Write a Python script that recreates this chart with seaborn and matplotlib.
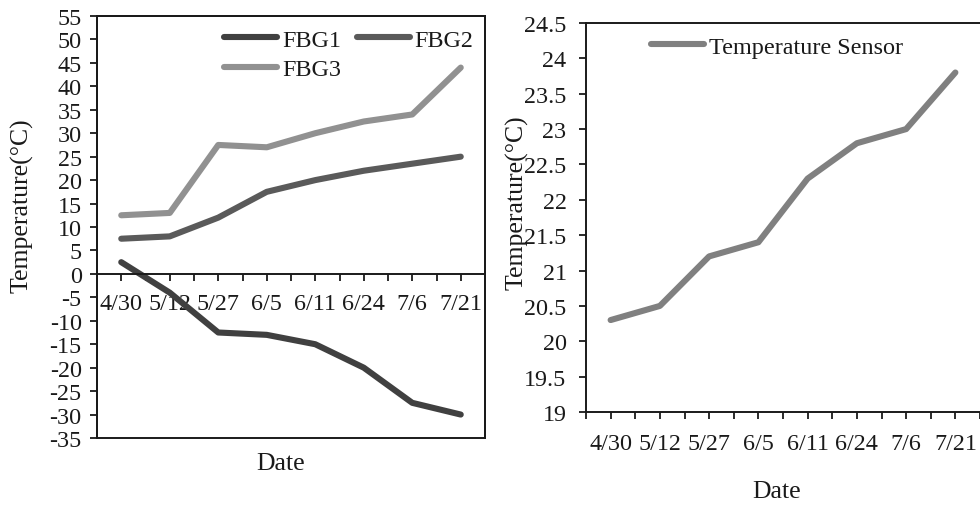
import matplotlib
matplotlib.use('Agg')
import matplotlib.pyplot as plt
import seaborn as sns
import pandas as pd
import numpy as np
from matplotlib.ticker import FixedLocator, FuncFormatter, MultipleLocator
from matplotlib.patches import Rectangle

dates = ['4/30', '5/12', '5/27', '6/5', '6/11', '6/24', '7/6', '7/21']
fbg1 = [2.5, -4, -12.5, -13, -15, -20, -27.5, -30]
fbg2 = [7.5, 8, 12, 17.5, 20, 22, 23.5, 25]
fbg3 = [12.5, 13, 27.5, 27, 30, 32.5, 34, 44]
sensor = [20.3, 20.5, 21.2, 21.4, 22.3, 22.8, 23.0, 23.8]

series_names = ['FBG1', 'FBG2', 'FBG3']
series_colors = ['#404040', '#5a5a5a', '#919191']
sensor_name = 'Temperature Sensor'
sensor_color = '#808080'

sns.set_theme(style='white')
plt.rcParams['font.family'] = ['Liberation Serif', 'DejaVu Serif']
plt.rcParams['text.color'] = '#1a1a1a'
plt.rcParams['axes.labelcolor'] = '#1a1a1a'
plt.rcParams['xtick.color'] = '#1a1a1a'
plt.rcParams['ytick.color'] = '#1a1a1a'

TICK_FS = 17.4
LABEL_FS = 18.5
LW = 4.4
SPINE_LW = 1.4

idx = np.arange(len(dates))
left_df = pd.DataFrame({
    'x': np.tile(idx, 3),
    'value': fbg1 + fbg2 + fbg3,
    'series': np.repeat(series_names, len(dates)),
})
right_df = pd.DataFrame({'x': idx, 'value': sensor, 'series': sensor_name})

fig = plt.figure(figsize=(9.8, 5.06), dpi=100)
axL = fig.add_axes([97 / 980, 1 - 439 / 506, 388 / 980, 422 / 506])
axR = fig.add_axes([586 / 980, 1 - 413 / 506, 394 / 980, 389 / 506])

sns.lineplot(data=left_df, x='x', y='value', hue='series', hue_order=series_names,
             palette=series_colors, linewidth=LW, ax=axL, legend=True,
             solid_capstyle='round', solid_joinstyle='round')
sns.lineplot(data=right_df, x='x', y='value', hue='series',
             palette=[sensor_color], linewidth=LW, ax=axR, legend=True,
             solid_capstyle='round', solid_joinstyle='round')

fmt = FuncFormatter(lambda v, p: f'{v:g}')

for ax in (axL, axR):
    ax.set_xlim(-0.5, len(dates) - 0.5)
    ax.xaxis.set_major_locator(FixedLocator(idx))
    ax.set_xticklabels(dates)
    ax.xaxis.set_minor_locator(FixedLocator(np.arange(-0.5, len(dates), 1.0)))
    ax.yaxis.set_major_formatter(fmt)
    ax.tick_params(axis='both', which='both', direction='out', length=5, width=1.3,
                   labelsize=TICK_FS)
    ax.tick_params(axis='x', which='both', bottom=True, top=False)
    ax.tick_params(axis='y', which='both', left=True, right=False)
    for s in ax.spines.values():
        s.set_linewidth(SPINE_LW)
        s.set_color('#1a1a1a')
    ax.grid(False)

# Left panel
axL.set_ylim(-35, 55)
axL.yaxis.set_major_locator(MultipleLocator(5))
axL.spines['bottom'].set_position(('data', 0))
axL.tick_params(axis='x', pad=9)
axL.tick_params(axis='y', pad=6)
axL.add_patch(Rectangle((0, 0), 1, 1, transform=axL.transAxes, fill=False,
                        lw=SPINE_LW, edgecolor='#1a1a1a', clip_on=False, zorder=3))
axL.set_xlabel('Date', fontsize=LABEL_FS, va='center')
axL.xaxis.set_label_coords(0.472, -0.059)
axL.set_ylabel('Temperature(°C)', fontsize=LABEL_FS, va='center')
axL.yaxis.set_label_coords(-0.193, 0.552)

h, l = axL.get_legend_handles_labels()
order = [0, 2, 1]
axL.legend([h[i] for i in order], [l[i] for i in order], ncol=2, frameon=False,
           fontsize=TICK_FS, loc='upper left',
           bbox_to_anchor=(224 / 980, 1 - 30 / 506), bbox_transform=fig.transFigure,
           borderpad=0, borderaxespad=0, handlelength=2.2, handletextpad=0.2,
           columnspacing=0.65, labelspacing=0.3)

# Right panel
axR.set_ylim(19, 24.5)
axR.yaxis.set_major_locator(MultipleLocator(0.5))
axR.spines['right'].set_visible(False)
axR.tick_params(axis='x', pad=10)
axR.tick_params(axis='y', pad=9)
axR.set_xlabel('Date', fontsize=LABEL_FS, va='center')
axR.xaxis.set_label_coords(0.485, -0.203)
axR.set_ylabel('Temperature(°C)', fontsize=LABEL_FS, va='center')
axR.yaxis.set_label_coords(-0.175, 0.54)

h, l = axR.get_legend_handles_labels()
axR.legend(h, l, frameon=False, fontsize=TICK_FS, loc='upper left',
           bbox_to_anchor=(651 / 980, 1 - 37 / 506), bbox_transform=fig.transFigure,
           borderpad=0, borderaxespad=0, handlelength=2.2, handletextpad=0.2)

fig.savefig('out.png', dpi=100)
